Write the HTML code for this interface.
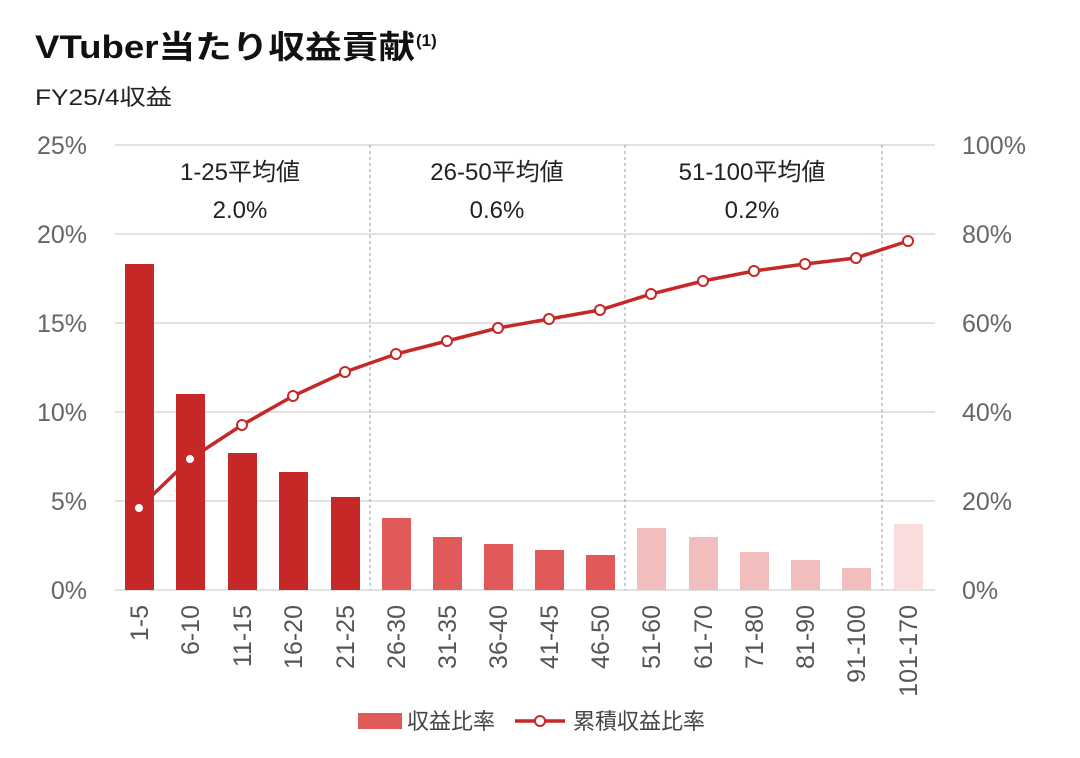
<!DOCTYPE html>
<html><head><meta charset="utf-8"><style>
body{margin:0;background:#fff;}
svg text{font-family:"Liberation Sans","Noto Sans CJK JP",sans-serif;}
</style></head><body>
<svg width="1080" height="753" xmlns="http://www.w3.org/2000/svg">
<text x="35" y="58" font-size="32" font-weight="bold" fill="#111" textLength="380" lengthAdjust="spacingAndGlyphs">VTuber当たり収益貢献</text>
<text x="416" y="46" font-size="17" font-weight="bold" fill="#111">(1)</text>
<text x="35" y="105" font-size="22" fill="#222" textLength="137" lengthAdjust="spacingAndGlyphs">FY25/4収益</text>
<g stroke="#d9d9d9" stroke-width="1.5">
<line x1="115" y1="145" x2="935" y2="145"/><line x1="115" y1="234" x2="935" y2="234"/>
<line x1="115" y1="323" x2="935" y2="323"/><line x1="115" y1="412" x2="935" y2="412"/>
<line x1="115" y1="501" x2="935" y2="501"/><line x1="115" y1="590" x2="935" y2="590"/>
</g>
<g stroke="#999" stroke-width="1" stroke-dasharray="3,3">
<line x1="370" y1="145" x2="370" y2="590"/><line x1="625" y1="145" x2="625" y2="590"/><line x1="882" y1="145" x2="882" y2="590"/>
</g>
<g font-size="25" fill="#666" text-anchor="end">
<text x="87" y="154">25%</text><text x="87" y="243">20%</text><text x="87" y="332">15%</text>
<text x="87" y="421">10%</text><text x="87" y="510">5%</text><text x="87" y="599">0%</text>
</g>
<g font-size="25" fill="#666" text-anchor="start">
<text x="962" y="154">100%</text><text x="962" y="243">80%</text><text x="962" y="332">60%</text>
<text x="962" y="421">40%</text><text x="962" y="510">20%</text><text x="962" y="599">0%</text>
</g>
<g font-size="24" fill="#222" text-anchor="middle">
<text x="240" y="180">1-25平均値</text><text x="240" y="218">2.0%</text>
<text x="497" y="180">26-50平均値</text><text x="497" y="218">0.6%</text>
<text x="752" y="180">51-100平均値</text><text x="752" y="218">0.2%</text>
</g>
<g>
<rect x="125" y="264" width="29" height="326" fill="#c62828"/>
<rect x="176" y="394" width="29" height="196" fill="#c62828"/>
<rect x="228" y="453" width="29" height="137" fill="#c62828"/>
<rect x="279" y="472" width="29" height="118" fill="#c62828"/>
<rect x="331" y="497" width="29" height="93" fill="#c62828"/>
<rect x="382" y="518" width="29" height="72" fill="#e05a5a"/>
<rect x="433" y="537" width="29" height="53" fill="#e05a5a"/>
<rect x="484" y="544" width="29" height="46" fill="#e05a5a"/>
<rect x="535" y="550" width="29" height="40" fill="#e05a5a"/>
<rect x="586" y="555" width="29" height="35" fill="#e05a5a"/>
<rect x="637" y="528" width="29" height="62" fill="#f2bdbd"/>
<rect x="689" y="537" width="29" height="53" fill="#f2bdbd"/>
<rect x="740" y="552" width="29" height="38" fill="#f2bdbd"/>
<rect x="791" y="560" width="29" height="30" fill="#f2bdbd"/>
<rect x="842" y="568" width="29" height="22" fill="#f2bdbd"/>
<rect x="894" y="524" width="29" height="66" fill="#fadcdc"/>
</g>
<polyline fill="none" stroke="#c62828" stroke-width="3.5" points="139,508 190,459 242,425 293,396 345,372 396,354 447,341 498,328 549,319 600,310 651,294 703,281 754,271 805,264 856,258 908,241"/>
<g fill="#fff" stroke="#c62828" stroke-width="2">
<circle cx="139" cy="508" r="5"/><circle cx="190" cy="459" r="5"/><circle cx="242" cy="425" r="5"/><circle cx="293" cy="396" r="5"/><circle cx="345" cy="372" r="5"/><circle cx="396" cy="354" r="5"/><circle cx="447" cy="341" r="5"/><circle cx="498" cy="328" r="5"/><circle cx="549" cy="319" r="5"/><circle cx="600" cy="310" r="5"/><circle cx="651" cy="294" r="5"/><circle cx="703" cy="281" r="5"/><circle cx="754" cy="271" r="5"/><circle cx="805" cy="264" r="5"/><circle cx="856" cy="258" r="5"/><circle cx="908" cy="241" r="5"/>
</g>
<g font-size="25" fill="#555" text-anchor="end">
<text transform="translate(148,605) rotate(-90)">1-5</text>
<text transform="translate(199,605) rotate(-90)">6-10</text>
<text transform="translate(251,605) rotate(-90)">11-15</text>
<text transform="translate(302,605) rotate(-90)">16-20</text>
<text transform="translate(354,605) rotate(-90)">21-25</text>
<text transform="translate(405,605) rotate(-90)">26-30</text>
<text transform="translate(456,605) rotate(-90)">31-35</text>
<text transform="translate(507,605) rotate(-90)">36-40</text>
<text transform="translate(558,605) rotate(-90)">41-45</text>
<text transform="translate(609,605) rotate(-90)">46-50</text>
<text transform="translate(660,605) rotate(-90)">51-60</text>
<text transform="translate(712,605) rotate(-90)">61-70</text>
<text transform="translate(763,605) rotate(-90)">71-80</text>
<text transform="translate(814,605) rotate(-90)">81-90</text>
<text transform="translate(865,605) rotate(-90)">91-100</text>
<text transform="translate(917,605) rotate(-90)">101-170</text>
</g>
<rect x="358" y="713" width="44" height="16" fill="#e05a5a"/>
<text x="407" y="729" font-size="22" fill="#444">収益比率</text>
<line x1="515" y1="721" x2="565" y2="721" stroke="#c62828" stroke-width="3.5"/>
<circle cx="540" cy="721" r="5" fill="#fff" stroke="#c62828" stroke-width="2"/>
<text x="573" y="729" font-size="22" fill="#444">累積収益比率</text>
</svg>
</body></html>
